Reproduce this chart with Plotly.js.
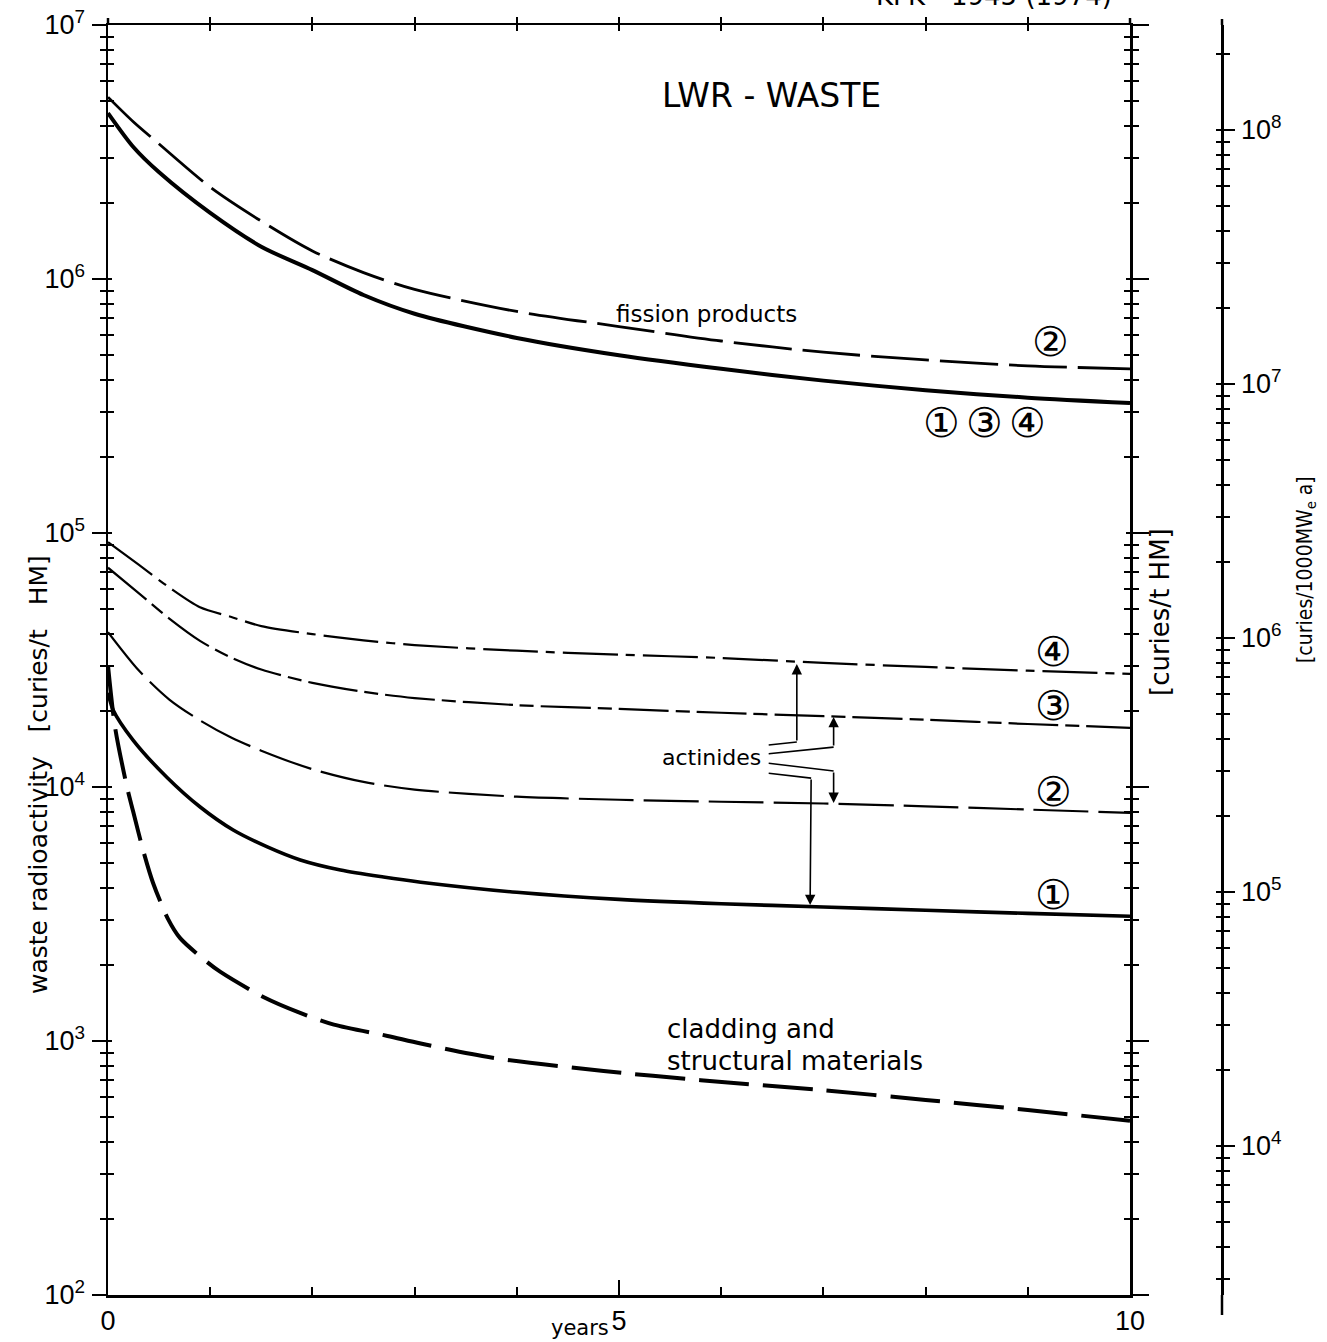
<!DOCTYPE html>
<html><head><meta charset="utf-8">
<script src="https://cdn.plot.ly/plotly-3.0.1.min.js"></script>
<style>html,body{margin:0;padding:0;background:#fff;} #chart{width:1327px;height:1342px;}</style>
</head><body><div id="chart"></div>
<script>
// ---------------- data ----------------
const fpYears = [0, 0.25, 0.5, 1, 1.5, 2, 2.5, 3, 4, 5, 6, 7, 8, 9, 10];
const fissionProducts134 = [4.5e6, 3.3e6, 2.63e6, 1.82e6, 1.34e6, 1.084e6, 8.65e5, 7.3e5, 5.86e5, 5.01e5, 4.43e5, 3.98e5, 3.65e5, 3.41e5, 3.25e5];
const fissionProducts2   = [5.2e6, 4.15e6, 3.4e6, 2.3e6, 1.69e6, 1.29e6, 1.06e6, 9.1e5, 7.45e5, 6.5e5, 5.7e5, 5.15e5, 4.8e5, 4.55e5, 4.43e5];

const actYears   = [0, 0.3, 0.6, 0.9, 1.2, 1.5, 2, 2.5, 3, 4, 5, 6, 7, 8, 9, 10];
const actinides4 = [9.2e4, 7.5e4, 6.1e4, 5.1e4, 4.68e4, 4.3e4, 4.0e4, 3.78e4, 3.62e4, 3.44e4, 3.32e4, 3.22e4, 3.08e4, 2.97e4, 2.87e4, 2.79e4];
const actinides3 = [7.3e4, 5.8e4, 4.6e4, 3.76e4, 3.24e4, 2.9e4, 2.57e4, 2.37e4, 2.24e4, 2.1e4, 2.03e4, 1.96e4, 1.9e4, 1.84e4, 1.77e4, 1.71e4];
const actinides2 = [4.07e4, 2.88e4, 2.21e4, 1.83e4, 1.57e4, 1.39e4, 1.175e4, 1.047e4, 9.77e3, 9.16e3, 8.91e3, 8.75e3, 8.61e3, 8.39e3, 8.15e3, 7.91e3];

const act1Years  = [0, 0.05, 0.245, 0.578, 0.902, 1.225, 1.559, 1.882, 2.275, 2.696, 3.06, 4, 5, 6, 7, 8, 9, 10];
const actinides1 = [2.35e4, 2.01e4, 1.53e4, 1.09e4, 8.34e3, 6.77e3, 5.81e3, 5.16e3, 4.71e3, 4.42e3, 4.22e3, 3.85e3, 3.61e3, 3.47e3, 3.37e3, 3.27e3, 3.18e3, 3.1e3];

const cladYears = [0, 0.069, 0.186, 0.245, 0.343, 0.441, 0.588, 0.706, 0.98, 1.1, 1.52, 1.88, 2.21, 2.735, 3.06, 3.75, 4.85, 5.8, 7, 8, 9, 10];
const cladding  = [3.0e4, 1.72e4, 1.0e4, 8.04e3, 5.65e3, 4.19e3, 3.02e3, 2.54e3, 2.03e3, 1.87e3, 1.49e3, 1.29e3, 1.16e3, 1.047e3, 977, 861, 762, 701, 640, 586, 535, 485];

// conversion factor between the two right-hand scales (curies/1000MWe a per curies/t HM)
const scaleFactor = 25.9;

// tick labels
const xTickVals = [0, 5, 10];
const xTickText = ['0', '5', '10'];
const yearTicks = [1, 2, 3, 4, 6, 7, 8, 9];
const yearTicksAll = [1, 2, 3, 4, 5, 6, 7, 8, 9];
const mainDecades = [1e2, 1e3, 1e4, 1e5, 1e6, 1e7];
const mainDecadeText = ['10<sup>2</sup>', '10<sup>3</sup>', '10<sup>4</sup>', '10<sup>5</sup>', '10<sup>6</sup>', '10<sup>7</sup>'];
const secondDecades = [1e3, 1e4, 1e5, 1e6, 1e7, 1e8];
const secondDecadeText = ['10<sup>3</sup>', '10<sup>4</sup>', '10<sup>5</sup>', '10<sup>6</sup>', '10<sup>7</sup>', '10<sup>8</sup>'];

// circled curve labels [years, value]
const fpLabel2 = [9.225, 5.65e5];
const fpLabel134X = [8.157, 8.578, 9.0];
const fpLabel134Y = 2.71e5;
const actLabelX = 9.255;
const actLabelY = [3.4e4, 2.08e4, 9.55e3, 3.76e3];
const actLabelText = ['\u2463', '\u2462', '\u2461', '\u2460'];

// ---------------- helpers (ticks) ----------------
function minorTicks(decs) {
  const out = [];
  decs.forEach(d => { for (let k = 2; k <= 9; k++) out.push(k * d); });
  return out;
}
const mainMinor = minorTicks([1e2, 1e3, 1e4, 1e5, 1e6]);
const secondMinor = minorTicks([1e3, 1e4, 1e5, 1e6, 1e7, 1e8]);

// ---------------- geometry ----------------
const W = 1327, H = 1342;
const mL = 108, mT = 25, mB = 47, mR = 87;
const PW = W - mL - mR, PH = H - mT - mB;
const xDomEnd = 1022 / PW;
const pos2 = (1222 - mL) / PW;
const logOff = Math.log10(scaleFactor);

const txtFont = 'DejaVu Sans, Liberation Sans, sans-serif';
const numFont = 'Liberation Sans, DejaVu Sans, sans-serif';
const black = '#000';

function line(x, y, width, dash, name) {
  return { x: x, y: y, type: 'scatter', mode: 'lines', name: name,
    line: { color: black, width: width, dash: dash, shape: 'spline', smoothing: 0.8 },
    hoverinfo: 'skip', showlegend: false };
}
function dummy(xa, ya) {
  return { x: [null], y: [null], xaxis: xa, yaxis: ya, type: 'scatter', mode: 'lines', showlegend: false, hoverinfo: 'skip' };
}

const traces = [
  line(fpYears, fissionProducts134, 4, 'solid', 'fission products 1,3,4'),
  line(fpYears, fissionProducts2, 2.8, '58px,11px', 'fission products 2'),
  line(actYears, actinides4, 2.2, '55px,8px,9px,8px', 'actinides 4'),
  line(actYears, actinides3, 2.2, '50px,7px,14px,7px', 'actinides 3'),
  line(actYears, actinides2, 2.2, '55px,10px', 'actinides 2'),
  line(act1Years, actinides1, 3.6, 'solid', 'actinides 1'),
  line(cladYears, cladding, 4, '50px,14px', 'cladding'),
  dummy('x2', 'y'), dummy('x3', 'y'),
  dummy('x', 'y2'), dummy('x', 'y3'), dummy('x', 'y4'), dummy('x', 'y5'), dummy('x', 'y6')
];

const tk = { tickcolor: black, tickwidth: 2, showgrid: false, zeroline: false, fixedrange: true };
const logMain = Object.assign({ type: 'log', range: [2, 7] }, tk);
const log2 = Object.assign({ type: 'log', range: [2 + logOff, 7 + logOff] }, tk);
const numTickFont = { family: numFont, size: 27, color: black };

const layout = {
  width: W, height: H,
  margin: { l: mL, r: mR, t: mT, b: mB, pad: 0 },
  paper_bgcolor: '#fff', plot_bgcolor: 'rgba(0,0,0,0)',
  showlegend: false,
  font: { family: txtFont, color: black },
  xaxis: Object.assign({}, tk, {
    domain: [0, xDomEnd], range: [0, 10], anchor: 'y',
    showline: true, linewidth: 2.5, linecolor: black,
    ticks: 'inside', tickmode: 'array', tickvals: xTickVals, ticktext: xTickText, ticklen: 15,
    tickfont: numTickFont, ticklabelstandoff: 0,
    minor: { ticks: 'inside', tickmode: 'array', tickvals: yearTicks, ticklen: 8, tickwidth: 2, tickcolor: black, showgrid: false }
  }),
  xaxis2: Object.assign({}, tk, {
    overlaying: 'x', anchor: 'y', side: 'top', range: [0, 10],
    showline: true, linewidth: 2.5, linecolor: black,
    ticks: 'outside', tickmode: 'array', tickvals: yearTicksAll, ticklen: 6, showticklabels: false
  }),
  xaxis3: Object.assign({}, tk, {
    overlaying: 'x', anchor: 'y', side: 'top', range: [0, 10], showline: false,
    ticks: 'inside', tickmode: 'array', tickvals: yearTicksAll, ticklen: 6, showticklabels: false
  }),
  yaxis: Object.assign({}, logMain, {
    domain: [0, 1], anchor: 'x', side: 'left',
    showline: true, linewidth: 2.5, linecolor: black,
    ticks: 'outside', tickmode: 'array', tickvals: mainDecades, ticktext: mainDecadeText, ticklen: 14,
    tickfont: numTickFont, ticklabelstandoff: 1,
    minor: { ticks: 'outside', tickmode: 'array', tickvals: mainMinor, ticklen: 6, tickwidth: 2, tickcolor: black, showgrid: false }
  }),
  yaxis2: Object.assign({}, logMain, {
    overlaying: 'y', anchor: 'x', side: 'left', showline: false,
    ticks: 'inside', tickmode: 'array', tickvals: mainDecades, ticklen: 4, showticklabels: false,
    minor: { ticks: 'inside', tickmode: 'array', tickvals: mainMinor, ticklen: 6, tickwidth: 2, tickcolor: black, showgrid: false }
  }),
  yaxis3: Object.assign({}, logMain, {
    overlaying: 'y', anchor: 'x', side: 'right',
    showline: true, linewidth: 2.5, linecolor: black,
    ticks: 'outside', tickmode: 'array', tickvals: mainDecades, ticklen: 16, showticklabels: false,
    minor: { ticks: 'outside', tickmode: 'array', tickvals: mainMinor, ticklen: 6, tickwidth: 2, tickcolor: black, showgrid: false }
  }),
  yaxis4: Object.assign({}, logMain, {
    overlaying: 'y', anchor: 'x', side: 'right', showline: false,
    ticks: 'inside', tickmode: 'array', tickvals: mainDecades, ticklen: 4, showticklabels: false,
    minor: { ticks: 'inside', tickmode: 'array', tickvals: mainMinor, ticklen: 6, tickwidth: 2, tickcolor: black, showgrid: false }
  }),
  yaxis5: Object.assign({}, log2, {
    overlaying: 'y', anchor: 'free', position: pos2, side: 'right',
    showline: true, linewidth: 2.5, linecolor: black,
    ticks: 'outside', tickmode: 'array', tickvals: secondDecades, ticktext: secondDecadeText, ticklen: 11,
    tickfont: numTickFont, ticklabelstandoff: 1,
    minor: { ticks: 'outside', tickmode: 'array', tickvals: secondMinor, ticklen: 6, tickwidth: 2, tickcolor: black, showgrid: false }
  }),
  yaxis6: Object.assign({}, log2, {
    overlaying: 'y', anchor: 'free', position: pos2, side: 'right', showline: false,
    ticks: 'inside', tickmode: 'array', tickvals: secondDecades, ticklen: 6, showticklabels: false,
    minor: { ticks: 'inside', tickmode: 'array', tickvals: secondMinor, ticklen: 6, tickwidth: 2, tickcolor: black, showgrid: false }
  }),
  shapes: [
    { type: 'line', xref: 'paper', yref: 'paper', x0: 0, x1: 0, y0: 1, y1: 1 + 7 / PH, line: { color: black, width: 2.5 } },
    { type: 'line', xref: 'paper', yref: 'paper', x0: xDomEnd, x1: xDomEnd, y0: 1, y1: 1 + 7 / PH, line: { color: black, width: 2.5 } },
    { type: 'line', xref: 'paper', yref: 'paper', x0: pos2, x1: pos2, y0: 1, y1: 1 + 6 / PH, line: { color: black, width: 2.5 } },
    { type: 'line', xref: 'paper', yref: 'paper', x0: pos2, x1: pos2, y0: 0, y1: -20 / PH, line: { color: black, width: 2.5 } }
  ],
  annotations: []
};

function pap(px, py) { return { x: (px - mL) / PW, y: (H - mB - py) / PH }; }
function textAnn(px, py, text, size, opts) {
  const p = pap(px, py);
  return Object.assign({ xref: 'paper', yref: 'paper', x: p.x, y: p.y, text: text, showarrow: false,
    font: { family: txtFont, size: size, color: black }, xanchor: 'center', yanchor: 'middle' }, opts || {});
}
const A = layout.annotations;
A.push(textAnn(38, 775, 'waste radioactivity\u00A0\u00A0 [curies/t\u00A0\u00A0 HM]', 25, { textangle: -90 }));
A.push(textAnn(1160, 612, '[curies/t HM]', 26, { textangle: -90 }));
A.push(textAnn(1306, 570, '[curies/1000MW<sub>e</sub> a]', 21,
  { textangle: -90, font: { family: 'DejaVu Sans Condensed, DejaVu Sans, sans-serif', size: 21, color: black } }));
A.push(textAnn(994, -4, 'KFK - 1945 (1974)', 26));
A.push(textAnn(772, 95, 'LWR - WASTE', 33));
A.push(textAnn(706, 314, 'fission products', 23));
A.push(textAnn(665, 1029, 'cladding and', 26, { xanchor: 'left' }));
A.push(textAnn(665, 1061, 'structural materials', 26, { xanchor: 'left' }));
A.push(textAnn(711, 757, 'actinides', 22));
A.push(textAnn(580, 1328, 'years', 21));

// circled numbers (data coordinates; annotations on log axes take log10 values)
const circFont = { family: 'DejaVu Sans, Noto Sans CJK JP, sans-serif', size: 41, color: black };
function circ(x, v, t) {
  return { xref: 'x', yref: 'y', x: x, y: Math.log10(v), text: t, showarrow: false, font: circFont, xanchor: 'center', yanchor: 'middle' };
}
A.push(circ(fpLabel2[0], fpLabel2[1], '\u2461'));
A.push(circ(fpLabel134X[0], fpLabel134Y, '\u2460'));
A.push(circ(fpLabel134X[1], fpLabel134Y, '\u2462'));
A.push(circ(fpLabel134X[2], fpLabel134Y, '\u2463'));
actLabelY.forEach((v, i) => A.push(circ(actLabelX, v, actLabelText[i])));

// "actinides" leader lines: [startX, startLog, bendX, bendLog, tipX, tipLog]
const leaders = [
  [6.45, 4.165, 6.74, 4.177, 6.74, 4.484],
  [6.45, 4.130, 7.10, 4.157, 7.10, 4.276],
  [6.45, 4.094, 7.10, 4.063, 7.10, 3.937],
  [6.45, 4.055, 6.88, 4.035, 6.87, 3.535]
];
leaders.forEach(l => {
  A.push({ xref: 'x', yref: 'y', axref: 'x', ayref: 'y', x: l[2], y: l[3], ax: l[0], ay: l[1], text: '',
    showarrow: true, arrowhead: 0, arrowwidth: 1.6, arrowcolor: black, standoff: 0, startstandoff: 0 });
  A.push({ xref: 'x', yref: 'y', axref: 'x', ayref: 'y', x: l[4], y: l[5], ax: l[2], ay: l[3], text: '',
    showarrow: true, arrowhead: 2, arrowsize: 1.3, arrowwidth: 1.6, arrowcolor: black, standoff: 0, startstandoff: 0 });
});

Plotly.newPlot('chart', traces, layout, { staticPlot: true, displayModeBar: false });
</script>
</body></html>
